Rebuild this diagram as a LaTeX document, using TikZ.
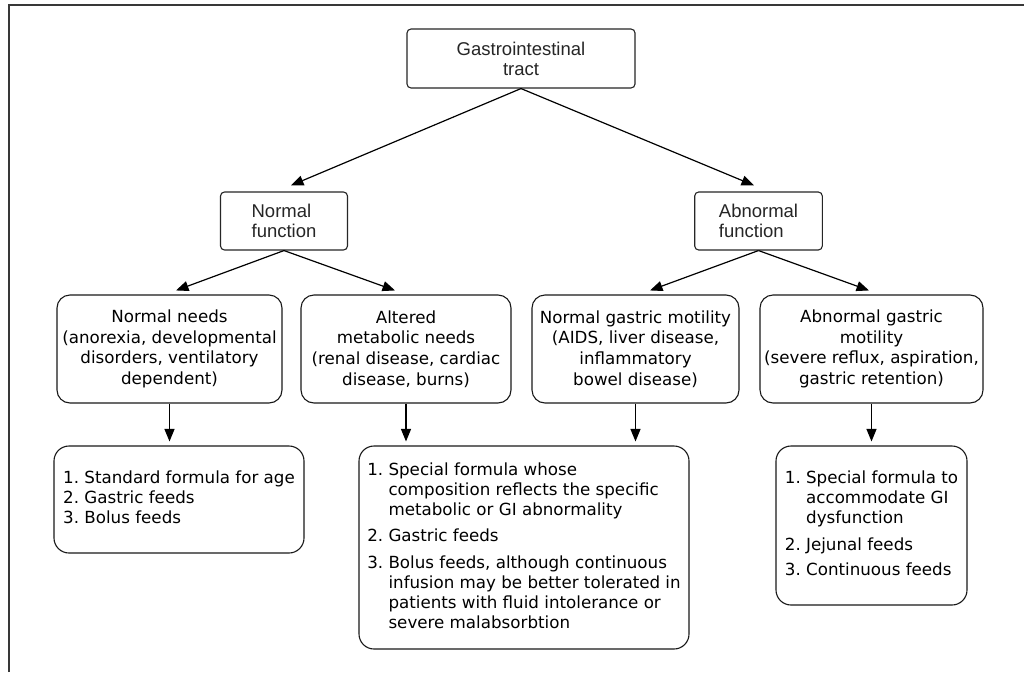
\documentclass[tikz,border=0pt]{standalone}
\usepackage{fontspec}
\setmainfont{Liberation Sans}
\newfontfamily\lowfont{DejaVu Sans}
\usetikzlibrary{arrows.meta}
\begin{document}
\begin{tikzpicture}[x=1pt,y=-1pt,
  topbox/.style={draw=black!85, line width=1.1pt, rounded corners=4pt, inner sep=0pt,
    font=\fontsize{18.5}{20}\selectfont, text=black!85},
  lowbox/.style={draw=black!90, line width=1.1pt, rounded corners=13pt, inner sep=0pt,
    font=\lowfont\fontsize{16.7}{20.7}\selectfont, align=center, text=black},
  listbox/.style={draw=black!90, line width=1.1pt, rounded corners=15pt, inner sep=0pt,
    font=\lowfont\fontsize{16.7}{20}\selectfont, text=black},
  arr/.style={line width=1.2pt, black, -{Triangle[length=12.5pt,width=10pt]}}]
\useasboundingbox (0,0) rectangle (1024,672);
\fill[white] (0,0) rectangle (1024,672);
\draw[line width=2.2pt, black!78] (8.7,672) -- (8.7,5) -- (1024,5);

\node[topbox, align=center, minimum width=228pt, minimum height=59pt] (gi) at (521,58.5) {Gastrointestinal\\tract};
\node[topbox, align=left, minimum width=127pt, minimum height=58pt] (nf) at (284,221) {Normal\\function};
\node[topbox, align=left, minimum width=127.6pt, minimum height=58pt] (af) at (758.5,221) {Abnormal\\function};

\node[lowbox, minimum width=225pt, minimum height=108pt] (nn) at (169.5,349) {Normal needs\\(anorexia, developmental\\disorders, ventilatory\\dependent)};
\node[lowbox, minimum width=210pt, minimum height=108pt] (am) at (406,349) {Altered\\metabolic needs\\(renal disease, cardiac\\disease, burns)};
\node[lowbox, minimum width=207pt, minimum height=108pt] (ngm) at (635.5,349) {Normal gastric motility\\(AIDS, liver disease,\\inflammatory\\bowel disease)};
\node[lowbox, minimum width=223pt, minimum height=108pt] (agm) at (871.5,349) {Abnormal gastric\\motility\\(severe reflux, aspiration,\\gastric retention)};

\node[listbox, minimum width=250pt, minimum height=107pt] (std) at (179,499.5) {%
\begin{tabular}{@{}l@{\ }l@{}}
1. & Standard formula for age\\
2. & Gastric feeds\\
3. & Bolus feeds
\end{tabular}};
\node[listbox, minimum width=330pt, minimum height=203pt] (spec) at (524,547.5) {%
\begin{tabular}{@{}l@{\ }l@{}}
1. & Special formula whose\\
   & composition reflects the specific\\
   & metabolic or GI abnormality\\[6.5pt]
2. & Gastric feeds\\[6.5pt]
3. & Bolus feeds, although continuous\\
   & infusion may be better tolerated in\\
   & patients with fluid intolerance or\\
   & severe malabsorbtion
\end{tabular}};
\node[listbox, minimum width=191pt, minimum height=159pt] (agl) at (871.5,525.5) {%
\begin{tabular}{@{}l@{\ }l@{}}
1. & Special formula to\\
   & accommodate GI\\
   & dysfunction\\[6.5pt]
2. & Jejunal feeds\\[5pt]
3. & Continuous feeds
\end{tabular}};

\draw[arr] (gi.south) -- ([xshift=7pt,yshift=6pt]nf.north);
\draw[arr] (gi.south) -- ([xshift=-4.5pt,yshift=6pt]af.north);
\draw[arr] (nf.south) -- ([xshift=6.5pt,yshift=4pt]nn.north);
\draw[arr] (nf.south) -- ([xshift=-11pt,yshift=4pt]am.north);
\draw[arr] (af.south) -- ([xshift=14.5pt,yshift=4pt]ngm.north);
\draw[arr] (af.south) -- ([xshift=-2.5pt,yshift=4pt]agm.north);
\draw[arr] (nn.south) -- ([yshift=4pt]nn.south |- std.north);
\draw[arr] (am.south) -- ([yshift=4pt]am.south |- spec.north);
\draw[arr] (ngm.south) -- ([yshift=4pt]ngm.south |- spec.north);
\draw[arr] (agm.south) -- ([yshift=4pt]agm.south |- agl.north);
\end{tikzpicture}
\end{document}
